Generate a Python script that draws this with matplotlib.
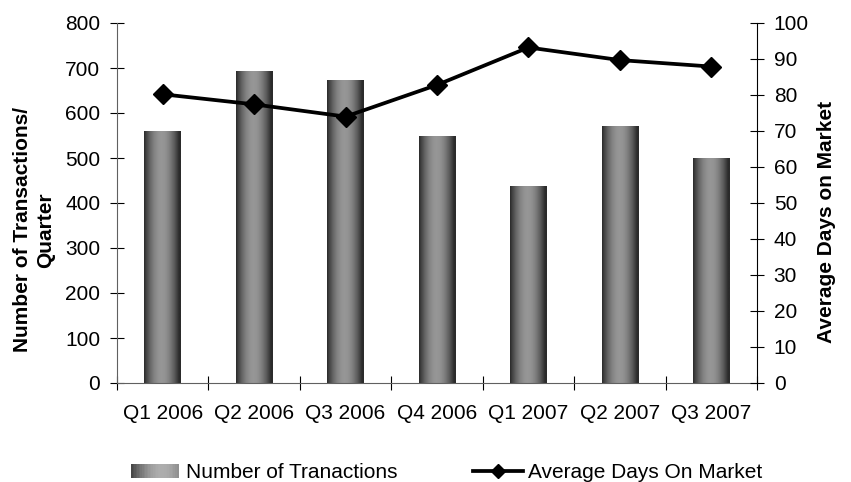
import numpy as np
import matplotlib
matplotlib.use("Agg")
import matplotlib.pyplot as plt
from matplotlib.patches import Rectangle
from matplotlib.lines import Line2D
from matplotlib.legend_handler import HandlerBase

plt.rcParams['font.family'] = ['Liberation Sans', 'DejaVu Sans']

quarters = ["Q1 2006", "Q2 2006", "Q3 2006", "Q4 2006", "Q1 2007", "Q2 2007", "Q3 2007"]
transactions = [558, 693, 673, 547, 436, 569, 498]
avg_days = [80.2, 77.4, 74.0, 82.8, 93.2, 89.7, 87.9]

W, H = 851, 482
FS = 15

# horizontal shading profile of a bar: dark edges, light centre
u = np.linspace(0, 1, 64)
shade = 0.17 + 0.42 * np.sin(np.pi * np.clip(u * 1.05, 0, 1)) ** 0.9
grad_img = shade[np.newaxis, :]

fig = plt.figure(figsize=(W / 100, H / 100), dpi=100)
ax = fig.add_axes([117 / W, 1 - 383 / H, (757 - 117) / W, (383 - 23) / H])
ax2 = ax.twinx()

x = np.arange(len(quarters))
bw = 0.40
for xi, h in zip(x, transactions):
    ax.imshow(grad_img, cmap='gray', vmin=0, vmax=1, aspect='auto',
              extent=(xi - bw / 2, xi + bw / 2, 0, h), interpolation='bilinear',
              zorder=2)

ax.set_xlim(-0.5, len(quarters) - 0.5)
ax.set_ylim(0, 800)
ax.set_yticks(np.arange(0, 801, 100))
ax.set_xticks(np.arange(-0.5, len(quarters), 1.0))
ax.set_xticklabels([])
ax.set_xticks(x, minor=True)
ax.set_xticklabels(quarters, minor=True)
ax.tick_params(axis='x', which='minor', length=0, pad=15, labelsize=FS)
ax.tick_params(axis='x', which='major', direction='inout', length=10, width=0.8)
ax.tick_params(axis='y', direction='inout', length=10, width=0.8, labelsize=FS, pad=7)

ax2.plot(x, avg_days, color='black', lw=2.7, marker='D', ms=10.5, zorder=3)
ax2.set_ylim(0, 100)
ax2.set_yticks(np.arange(0, 101, 10))
ax2.tick_params(axis='y', direction='inout', length=10, width=0.8, labelsize=FS, pad=7)

for a in (ax, ax2):
    a.spines['top'].set_visible(False)
ax.spines['right'].set_visible(False)
ax2.spines['left'].set_visible(False)
ax2.spines['bottom'].set_visible(False)
ax.spines['left'].set_color('#606060')
ax.spines['bottom'].set_color('#606060')

fig.text(34 / W, 1 - 230 / H, "Number of Transactions/\nQuarter", rotation=90,
         ha='center', va='center', multialignment='center', linespacing=1.25,
         fontsize=FS, fontweight='bold')
fig.text(827 / W, 1 - 222 / H, "Average Days on Market", rotation=90,
         ha='center', va='center', fontsize=FS, fontweight='bold')


class GradientHandler(HandlerBase):
    def create_artists(self, legend, orig_handle, xdescent, ydescent, width, height, fontsize, trans):
        arts = []
        n = 30
        ramp = 0.28 + 0.40 * np.sin(np.pi * 0.75 * np.linspace(0, 1, n))
        for i in range(n):
            v = ramp[i]
            arts.append(Rectangle((xdescent + width * i / n, -ydescent), width / n + 0.3, height,
                                  facecolor=(v, v, v), edgecolor='none', transform=trans))
        return arts


bar_handle = Rectangle((0, 0), 1, 1)
line_handle = Line2D([], [], color='black', lw=2.7, marker='D', ms=7.5)
leg_y = 1 - 473 / H
common = dict(loc='center left', frameon=False, fontsize=FS, borderpad=0,
              borderaxespad=0)
fig.legend([bar_handle], ["Number of Tranactions"], handler_map={Rectangle: GradientHandler()},
           bbox_to_anchor=(131 / W, leg_y), handlelength=2.26, handleheight=0.68,
           handletextpad=0.38, **common)
fig.legend([line_handle], ["Average Days On Market"], bbox_to_anchor=(473 / W, leg_y),
           handlelength=2.4, handletextpad=0.24, **common)

fig.savefig("out.png", dpi=100)
